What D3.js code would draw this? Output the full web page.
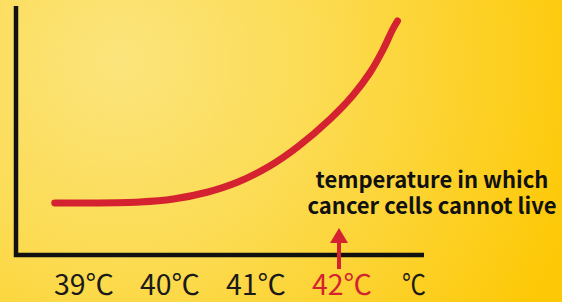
<!DOCTYPE html>
<html>
<head>
<meta charset="utf-8">
<script src="https://cdn.jsdelivr.net/npm/d3@7"></script>
<style>
  html, body { margin: 0; padding: 0; background: #fdd320; }
  svg { display: block; }
</style>
</head>
<body>
<svg id="chart" width="562" height="302"></svg>
<script>
// curve: temperature vs. effect (arbitrary 0-100 units)
var curveTemps  = [38.66, 39.07, 39.65, 40.04, 40.43, 40.79, 41.16, 41.49, 41.86, 42.13, 42.33, 42.48, 42.59, 42.645];
var curveValues = [20.8, 20.8, 21.2, 22.4, 25.1, 29.2, 35.6, 43.4, 54.3, 64.0, 73.2, 82.3, 90.3, 93.6];
var tickTemps  = [39, 40, 41, 42];
var tickLabels = ['39℃', '40℃', '41℃', '42℃'];
var unitLabel = '℃';
var markTemp = 42;
var noteLines = ['temperature in which', 'cancer cells cannot live'];

var svg = d3.select('#chart'),
    width = 562, height = 302;
var red = '#d42230';
var font = '"Noto Sans CJK KR", "Noto Sans", sans-serif';

var defs = svg.append('defs');
var grad = defs.append('radialGradient')
    .attr('id', 'bg').attr('gradientUnits', 'userSpaceOnUse')
    .attr('cx', 120).attr('cy', 60).attr('r', 480);
grad.append('stop').attr('offset', 0).attr('stop-color', '#fbe47c');
grad.append('stop').attr('offset', 0.4).attr('stop-color', '#fcdc55');
grad.append('stop').attr('offset', 1).attr('stop-color', '#fdc805');

svg.append('rect').attr('width', width).attr('height', height).attr('fill', 'url(#bg)');

var x0 = 16, x1 = 424, yBase = 255, yTop = 6;

var x = d3.scaleLinear().domain([39, 42]).range([84, 342]);
var y = d3.scaleLinear().domain([0, 100]).range([yBase, 5]);

// axes
svg.append('path')
    .attr('d', 'M' + x0 + ',' + yTop + 'V' + yBase + 'H' + x1)
    .attr('fill', 'none').attr('stroke', '#111').attr('stroke-width', 4.5)
    .attr('stroke-linejoin', 'miter');

// curve
var line = d3.line()
    .x(function(d, i) { return x(curveTemps[i]); })
    .y(function(d) { return y(d); })
    .curve(d3.curveCatmullRom.alpha(0.5));

svg.append('path')
    .attr('d', line(curveValues))
    .attr('fill', 'none').attr('stroke', red)
    .attr('stroke-width', 7).attr('stroke-linecap', 'round');

// tick labels
svg.selectAll('.tick')
    .data(tickTemps)
    .enter().append('text')
    .attr('x', function(d) { return x(d); })
    .attr('y', 295)
    .attr('text-anchor', 'middle')
    .attr('font-family', font)
    .attr('font-size', 28)
    .attr('textLength', 60).attr('lengthAdjust', 'spacingAndGlyphs')
    .attr('fill', function(d) { return d === markTemp ? red : '#1a1a1a'; })
    .text(function(d, i) { return tickLabels[i]; });

svg.append('text')
    .attr('x', x1 + 2).attr('y', 295)
    .attr('text-anchor', 'end')
    .attr('font-family', font)
    .attr('font-size', 28).attr('fill', '#1a1a1a')
    .attr('textLength', 24).attr('lengthAdjust', 'spacingAndGlyphs')
    .text(unitLabel);

// arrow up to the note
var ax = x(markTemp) - 3;
svg.append('line')
    .attr('x1', ax).attr('x2', ax)
    .attr('y1', 269).attr('y2', 240)
    .attr('stroke', red).attr('stroke-width', 4);
svg.append('path')
    .attr('d', 'M' + ax + ',228L' + (ax + 9) + ',243L' + (ax - 9) + ',243Z')
    .attr('fill', red);

noteLines.forEach(function(t, i) {
    svg.append('text')
        .attr('x', 432).attr('y', 188 + i * 26)
        .attr('text-anchor', 'middle')
        .attr('font-family', font)
        .attr('font-size', 22).attr('font-weight', 700).attr('fill', '#111')
        .text(t);
});
</script>
</body>
</html>
